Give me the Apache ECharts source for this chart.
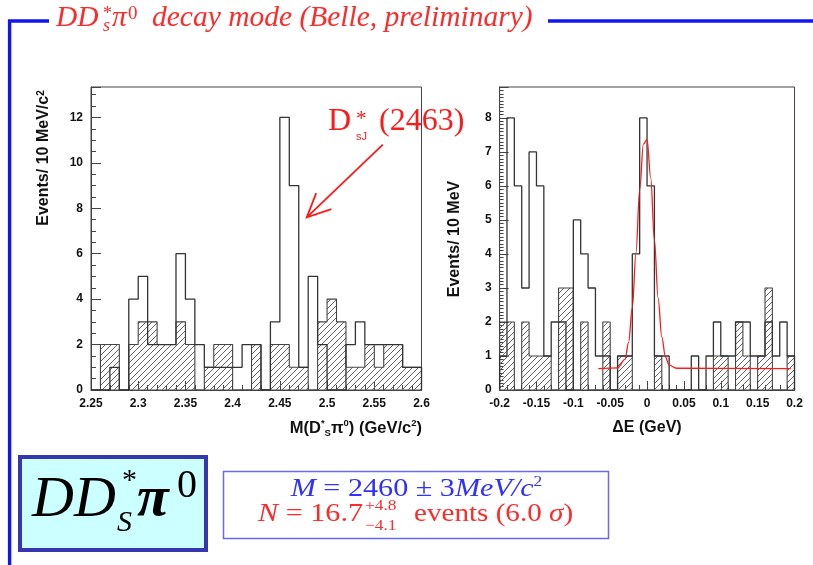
<!DOCTYPE html>
<html><head><meta charset="utf-8">
<script src="https://cdn.jsdelivr.net/npm/echarts@6/dist/echarts.min.js"></script>
<style>html,body{margin:0;padding:0;background:#fff}#c{width:813px;height:565px}</style>
</head><body><div id="c"></div>
<script>
// ---- data ----
const massBinStart = 2.25;
const massBinWidth = 0.01;
const massTotal    = [0,0,1,0,4,5,2,2,2,6,4,2,1,1,1,1,2,2,0,3,12,9,1,5,2,0,0,2,3,2,2,2,2,1,1];
const massSideband = [0,2,2,0,2,3,3,2,2,3,2,0,1,2,2,0,0,2,0,2,2,1,1,0,3,4,3,1,1,2,1,2,2,1,1];

const deBinStart = -0.2;
const deBinWidth = 0.01;
const deTotal    = [1,8,6,3,7,6,1,2,2,0,5,4,3,1,1,0,1,1,4,8,6,1,1,0,0,0,1,0,1,2,1,1,2,2,1,1,2,1,2,1];
const deSideband = [2,2,0,2,1,1,1,0,3,3,0,2,0,0,2,0,1,1,0,0,0,1,0,0,0,0,0,0,0,1,1,0,2,1,0,1,3,0,0,1];

const fitX = [-0.066,-0.04,-0.03,-0.025,-0.02,-0.015,-0.01,-0.005,0,0.005,0.01,0.015,0.02,0.025,0.03,0.04,0.195];
const fitY = [0.63,0.65,0.90,1.40,2.42,4.04,5.89,7.23,7.37,6.23,4.41,2.71,1.56,0.97,0.73,0.64,0.63];

const massRange = [2.25, 2.6];
const deRange = [-0.2, 0.2];
const massYMax = 13.34;
const deYMax = 8.91;

const arrowTip = [2.4785, 7.6];
const arrowTail = [2.559, 10.8];

// ---- helpers ----
function stepData(start, width, vals) {
  const pts = [[start, 0]];
  for (let i = 0; i < vals.length; i++) pts.push([+(start + i * width).toFixed(5), vals[i]]);
  const end = +(start + vals.length * width).toFixed(5);
  pts.push([end, vals[vals.length - 1]]);
  pts.push([end, 0]);
  return pts;
}
function hatch() {
  const c = document.createElement('canvas');
  c.width = 6; c.height = 6;
  const g = c.getContext('2d');
  g.strokeStyle = '#666'; g.lineWidth = 1;
  g.beginPath();
  g.moveTo(-1, 7); g.lineTo(7, -1);
  g.moveTo(-1, 1); g.lineTo(1, -1);
  g.moveTo(5, 7); g.lineTo(7, 5);
  g.stroke();
  return c;
}
const pattern = { image: hatch(), repeat: 'repeat' };

const lab = { fontFamily: 'Liberation Sans', fontWeight: 'bold', fontSize: 12, color: '#111' };
const axCol = '#444';
function xAx(gi, range, interval) {
  return {
    gridIndex: gi, type: 'value', min: range[0], max: range[1], interval: interval,
    axisLine: { show: true, onZero: false, lineStyle: { color: axCol, width: 1 } },
    axisTick: { show: true, inside: true, length: 9, lineStyle: { color: axCol } },
    minorTick: { show: true, splitNumber: 5, length: 5, lineStyle: { color: axCol } },
    splitLine: { show: false },
    axisLabel: Object.assign({ margin: 8 }, lab)
  };
}
function yAx(gi, max, interval, minorSplit, majorLen, minorLen) {
  return {
    gridIndex: gi, type: 'value', min: 0, max: max, interval: interval,
    axisLine: { show: true, onZero: false, lineStyle: { color: axCol, width: 1 } },
    axisTick: { show: true, inside: true, length: majorLen, lineStyle: { color: axCol } },
    minorTick: { show: true, splitNumber: minorSplit, length: minorLen, lineStyle: { color: axCol } },
    splitLine: { show: false },
    axisLabel: Object.assign({ margin: 8, showMaxLabel: false }, lab)
  };
}
function T(text, x, y, font, fill, extra, sx) {
  const st = Object.assign({ text: text, font: font, fill: fill, align: 'left', textAlign: 'left',
    verticalAlign: 'middle', textVerticalAlign: 'middle' }, extra || {});
  const el = { type: 'text', x: x, y: y, style: st, z: 100 };
  if (sx) el.scaleX = sx;
  return el;
}
const serifI = (s) => 'italic ' + s + 'px "Liberation Serif"';
const serif = (s) => s + 'px "Liberation Serif"';
const red = '#ff2a2a';
const histLine = { color: '#333', width: 1.3 };
const eqScale = 1.16;

const option = {
  animation: false,
  backgroundColor: '#fff',
  grid: [
    { left: 91, top: 87, width: 330.5, height: 303, show: true, borderColor: axCol, borderWidth: 1, backgroundColor: '#fff' },
    { left: 499.6, top: 87, width: 294.9, height: 303, show: true, borderColor: axCol, borderWidth: 1, backgroundColor: '#fff' }
  ],
  xAxis: [ xAx(0, massRange, 0.05), xAx(1, deRange, 0.05) ],
  yAxis: [ yAx(0, massYMax, 2, 4, 10, 5), yAx(1, deYMax, 1, 10, 9, 4) ],
  series: [
    { type: 'line', xAxisIndex: 0, yAxisIndex: 0, step: 'end', symbol: 'none',
      data: stepData(massBinStart, massBinWidth, massSideband),
      lineStyle: { color: '#444', width: 1.1 }, areaStyle: { color: pattern, opacity: 1 } },
    { type: 'line', xAxisIndex: 0, yAxisIndex: 0, step: 'end', symbol: 'none',
      data: stepData(massBinStart, massBinWidth, massTotal), lineStyle: histLine },
    { type: 'line', xAxisIndex: 1, yAxisIndex: 1, step: 'end', symbol: 'none',
      data: stepData(deBinStart, deBinWidth, deSideband),
      lineStyle: { color: '#444', width: 1.1 }, areaStyle: { color: pattern, opacity: 1 } },
    { type: 'line', xAxisIndex: 1, yAxisIndex: 1, step: 'end', symbol: 'none',
      data: stepData(deBinStart, deBinWidth, deTotal), lineStyle: histLine },
    { type: 'line', xAxisIndex: 1, yAxisIndex: 1, symbol: 'none', smooth: 0.35, smoothMonotone: 'x',
      data: fitX.map((x, i) => [x, fitY[i]]), lineStyle: { color: '#ff1a1a', width: 1.3 }, z: 5 }
  ],
  graphic: [
    // slide frame
    { type: 'polyline', shape: { points: [[49, 21], [9.6, 21], [9.6, 566]] }, style: { stroke: '#1414f0', lineWidth: 3.4, fill: null }, z: 90 },
    { type: 'line', shape: { x1: 548, y1: 21, x2: 813, y2: 21 }, style: { stroke: '#1414f0', lineWidth: 3.4 }, z: 90 },
    // slide title
    T('DD', 56, 18, serifI(29.5), red),
    T('*', 103, 14.5, serif(18), red),
    T('s', 103, 26, serifI(18), red),
    T('π', 112, 18, serifI(29.5), red),
    T('0', 128, 14, serif(19), red),
    T('decay mode (Belle, preliminary)', 152, 18, serifI(29.5), red),
    // axis titles
    { type: 'text', x: 44, y: 158, rotation: Math.PI / 2, z: 100,
      style: { text: 'Events/ 10 MeV/c{a|2}', font: 'bold 16px "Liberation Sans"', fill: '#111',
        align: 'center', textAlign: 'center', verticalAlign: 'middle', textVerticalAlign: 'middle',
        rich: { a: { font: 'bold 10px "Liberation Sans"', fill: '#111', verticalAlign: 'top', lineHeight: 10 } } } },
    { type: 'text', x: 455, y: 239, rotation: Math.PI / 2, z: 100,
      style: { text: 'Events/ 10 MeV', font: 'bold 16px "Liberation Sans"', fill: '#111',
        align: 'center', textAlign: 'center', verticalAlign: 'middle', textVerticalAlign: 'middle' } },
    { type: 'text', x: 422, y: 428, z: 100,
      style: { text: 'M(D{a|*}{b|S}π{a|0}) (GeV/c{a|2})', font: 'bold 16.5px "Liberation Sans"', fill: '#111',
        align: 'right', textAlign: 'right', verticalAlign: 'middle', textVerticalAlign: 'middle', lineHeight: 20,
        rich: { a: { font: 'bold 9.5px "Liberation Sans"', fill: '#111', verticalAlign: 'top', lineHeight: 10 },
                b: { font: 'bold 9.5px "Liberation Sans"', fill: '#111', verticalAlign: 'bottom', lineHeight: 10 } } } },
    { type: 'text', x: 647, y: 428, z: 100,
      style: { text: 'ΔE (GeV)', font: 'bold 16px "Liberation Sans"', fill: '#111',
        align: 'center', textAlign: 'center', verticalAlign: 'middle', textVerticalAlign: 'middle' } },
    // annotation text
    T('D', 328, 121.5, serif(32), '#ff1a1a'),
    T('*', 356, 119, serif(21), '#ff1a1a'),
    T('sJ', 356, 137, '11px "Liberation Sans"', '#ff1a1a'),
    T('(2463)', 379, 121.5, serif(32), '#ff1a1a'),
    // bottom boxes
    { type: 'rect', shape: { x: 20, y: 457, width: 186, height: 93 }, style: { fill: '#ccffff', stroke: '#3636b0', lineWidth: 4 }, z: 90 },
    T('DD', 32, 500.3, serifI(58), '#000'),
    T('*', 122, 481, serif(30), '#000'),
    T('S', 117, 522.8, serifI(30), '#000'),
    T('π', 137, 500.3, 'bold italic 58px "Liberation Serif"', '#000'),
    T('0', 177, 486, serif(40), '#000'),
    { type: 'rect', shape: { x: 223.5, y: 471.5, width: 385, height: 67 }, style: { fill: '#fff', stroke: '#6a6af0', lineWidth: 1.5 }, z: 90 },
    { type: 'text', x: 416.5, y: 489, z: 100, scaleX: eqScale,
      style: { text: '{i|M} = 2460 ± 3{i|MeV/c}{s|2}', font: serif(26), fill: '#3030ff',
        align: 'center', textAlign: 'center', verticalAlign: 'middle', textVerticalAlign: 'middle', lineHeight: 28,
        rich: { i: { font: serifI(26), fill: '#3030ff', lineHeight: 28 },
                s: { font: serif(15), fill: '#3030ff', verticalAlign: 'top', lineHeight: 14 } } } },
    T('{i|N} = 16.7', 363, 514, serif(26), red, { align: 'right', textAlign: 'right', rich: { i: { font: serifI(26), fill: red } } }, eqScale),
    T('+4.8', 365, 506, serif(15), red, null, eqScale),
    T('−4.1', 365, 526, serif(15), red, null, eqScale),
    T('events (6.0 {i|σ})', 414, 514, serif(26), red, { rich: { i: { font: serifI(26), fill: red } } }, 1.12)
  ]
};

const chart = echarts.init(document.getElementById('c'), null, { renderer: 'canvas' });
chart.setOption(option);

const tip = chart.convertToPixel({ gridIndex: 0 }, arrowTip);
const tail = chart.convertToPixel({ gridIndex: 0 }, arrowTail);
const dx = tail[0] - tip[0], dy = tail[1] - tip[1];
const L = Math.hypot(dx, dy), ux = dx / L, uy = dy / L;
const a = 25 * Math.PI / 180, hl = 26;
const b1 = [tip[0] + hl * (ux * Math.cos(a) - uy * Math.sin(a)), tip[1] + hl * (ux * Math.sin(a) + uy * Math.cos(a))];
const b2 = [tip[0] + hl * (ux * Math.cos(-a) - uy * Math.sin(-a)), tip[1] + hl * (ux * Math.sin(-a) + uy * Math.cos(-a))];
chart.setOption({ graphic: option.graphic.concat([
  { type: 'line', shape: { x1: tail[0], y1: tail[1], x2: tip[0], y2: tip[1] }, style: { stroke: '#ff1a1a', lineWidth: 1.8 }, z: 100 },
  { type: 'polyline', shape: { points: [b1, tip, b2] }, style: { stroke: '#ff1a1a', lineWidth: 1.8, fill: null }, z: 100 }
]) }, { replaceMerge: ['graphic'] });
</script>
</body></html>
